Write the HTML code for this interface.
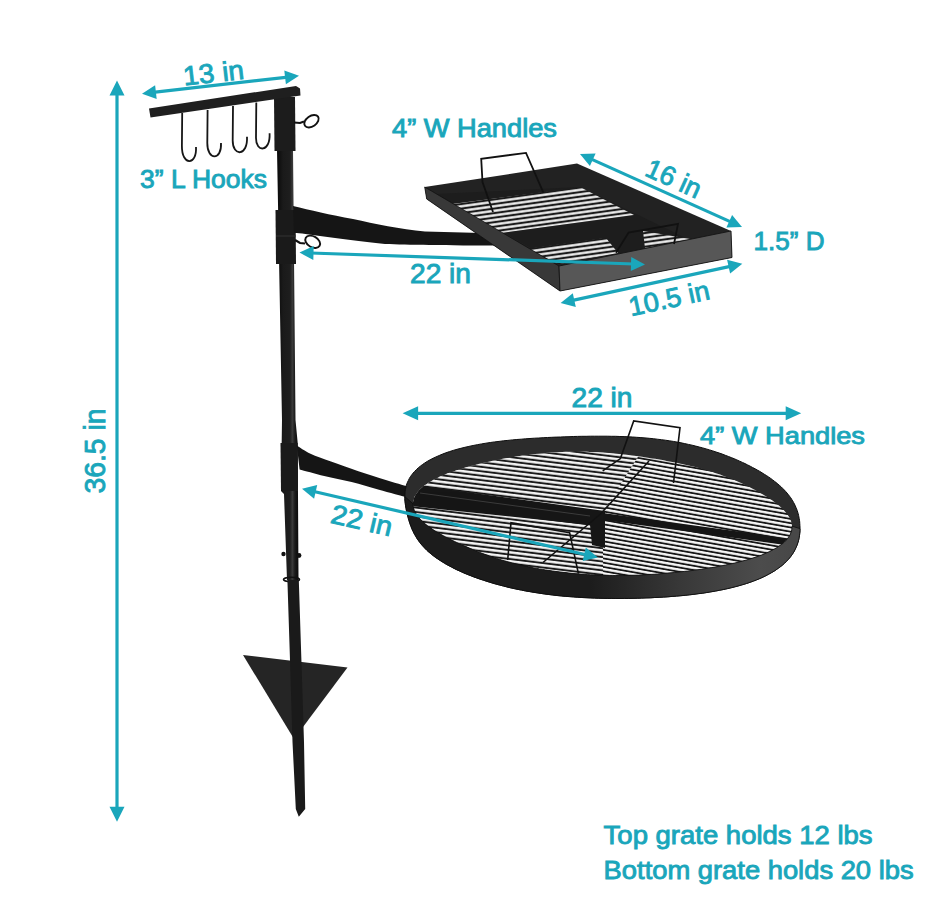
<!DOCTYPE html>
<html><head><meta charset="utf-8"><title>Grill</title>
<style>html,body{margin:0;padding:0;background:#fff;width:950px;height:903px;overflow:hidden}
svg{display:block} text{font-family:"Liberation Sans", sans-serif}</style></head>
<body><svg width="950" height="903" viewBox="0 0 950 903"><defs>
<pattern id="stripesR" patternUnits="userSpaceOnUse" width="40" height="4.2" patternTransform="rotate(10)">
<rect width="40" height="4.2" fill="#111111"/><rect y="0.8" width="40" height="2.4" fill="#f6f6f6"/></pattern>
<pattern id="stripesL" patternUnits="userSpaceOnUse" width="40" height="4.4" patternTransform="rotate(7)">
<rect width="40" height="4.4" fill="#111111"/><rect y="0.8" width="40" height="2.5" fill="#f4f4f4"/></pattern>
<pattern id="stripesT" patternUnits="userSpaceOnUse" width="40" height="4.5" patternTransform="rotate(-7.9)">
<rect width="40" height="4.5" fill="#1a1a1a"/><rect y="1.1" width="40" height="2.3" fill="#f2f2f2"/></pattern>
<linearGradient id="poleG" x1="278" x2="298" y1="0" y2="0" gradientUnits="userSpaceOnUse">
<stop offset="0" stop-color="#0c0c0c"/><stop offset="0.25" stop-color="#1a1a1a"/><stop offset="0.6" stop-color="#1e1e1e"/><stop offset="0.72" stop-color="#3a3a3a"/><stop offset="0.85" stop-color="#1a1a1a"/><stop offset="1" stop-color="#0c0c0c"/></linearGradient>
<linearGradient id="wallG" x1="590" x2="790" y1="0" y2="0" gradientUnits="userSpaceOnUse">
<stop offset="0" stop-color="#1c1c1c"/><stop offset="0.45" stop-color="#383838"/><stop offset="0.85" stop-color="#4c4c4c"/><stop offset="1" stop-color="#484848"/></linearGradient>
</defs><rect width="950" height="903" fill="#ffffff"/><path d="M277,150 L293,150 L295.5,420 L297.7,443 L298.5,580 L287,580 L284,494 L281,491 L282,420 Z" fill="url(#poleG)"/><path d="M274,97 L295,97 L295.5,151 L274.5,151 Z" fill="#1c1c1c"/><path d="M275.5,210 L295.5,210 L296,264 L276,264 Z" fill="#1a1a1a"/><line x1="276" y1="236" x2="296" y2="236" stroke="#333" stroke-width="1"/><path d="M280.5,443 L297.7,443 L298,491 L281,491 Z" fill="#1a1a1a"/><circle cx="283.5" cy="554" r="2.2" fill="#111"/><circle cx="299" cy="555.5" r="2.4" fill="#111"/><ellipse cx="291.5" cy="579.5" rx="8" ry="2.2" fill="none" stroke="#111" stroke-width="1.6"/><path d="M149,108.5 L296,86 L300,88.5 L300.5,95.5 L150.5,117.5 Z" fill="#1f1f1f"/><path d="M182.2,113 L181.89999999999998,146 C181.7,166 197,166 196,147" fill="none" stroke="#161616" stroke-width="1.8"/><path d="M207.6,110 L207.29999999999998,143 C207.1,160.8 222,160.8 221,143" fill="none" stroke="#161616" stroke-width="1.8"/><path d="M233,106 L232.7,140.6 C232.5,156.7 248,156.7 247,136.7" fill="none" stroke="#161616" stroke-width="1.8"/><path d="M256.3,102.5 L256.0,138 C255.8,152.7 270.6,152.7 269.6,133.2" fill="none" stroke="#161616" stroke-width="1.8"/><ellipse cx="311.5" cy="121.2" rx="8" ry="5.2" transform="rotate(-35 311.5 121.2)" fill="none" stroke="#111" stroke-width="1.9"/><path d="M294,122.5 L300,123 L304,121.5" fill="none" stroke="#111" stroke-width="2.2"/><ellipse cx="312.7" cy="241.8" rx="8" ry="5.4" transform="rotate(30 312.7 241.8)" fill="none" stroke="#111" stroke-width="1.9"/><path d="M295,240 L300,243 L305,243.5" fill="none" stroke="#111" stroke-width="2.2"/><path d="M293,206 C310,210 330,215 353,219 C375,224 400,229 425,231.5 L520,234 L520,245.5 C440,245.5 410,245 385,244 C360,241 340,239 320,236 C310,234.5 300,233 294,233 Z" fill="#151515"/><path d="M296.8,445.5 C299.1,446.9 304.8,451.1 310.5,453.8 C316.2,456.5 323.0,458.6 331.0,461.5 C339.0,464.4 349.3,468.1 358.4,471.2 C367.5,474.3 377.5,477.4 385.8,480.0 C394.1,482.6 404.3,485.4 408.0,486.5  L408,497.5 L408.0,497.5 C403.2,496.2 388.4,492.3 379.0,489.7 C369.6,487.1 360.7,484.3 351.6,482.0 C342.5,479.7 332.9,478.1 324.2,476.0 C315.5,473.9 303.7,470.6 299.6,469.5  Z" fill="#151515"/><path d="M424.7,187 L577,163.6 L731,231 L732,257.5 L560,291 L426.7,199 Z" fill="#222222"/><path d="M436,194 L580,187 L690,240 L559,264 Z" fill="#1d1d1d"/><path d="M452,204 L581,187.5 L634,215 L501,233 Z" fill="url(#stripesT)"/><path d="M527,249 L606,238 L618,253 L559,264 Z" fill="url(#stripesT)"/><path d="M643,231 L690,239 L689,241 L645,248 Z" fill="url(#stripesT)"/><path d="M424.7,187 L559,266 L560,291 L426.7,199 Z" fill="#383838" stroke="#111" stroke-width="0.8"/><path d="M559,266 L731,231 L732,257.5 L560,291 Z" fill="#575757" stroke="#151515" stroke-width="0.9"/><path d="M493,212 L482.5,182 L481.2,158.8 L526,152.9 L543.5,192.8" fill="none" stroke="#111" stroke-width="1.8"/><path d="M616,252.8 L628.6,232.6 L678,223.8 L674,244" fill="none" stroke="#111" stroke-width="1.8"/><path d="M408.0,517.0 L407.5,515.4 L407.1,513.7 L406.8,512.1 L406.4,510.4 L406.1,508.7 L405.8,507.0 L405.5,505.3 L405.3,503.6 L405.1,501.9 L404.9,500.2 L404.9,498.4 L404.8,496.6 L404.9,494.9 L405.0,493.1 L405.1,491.3 L405.4,489.5 L405.8,487.7 L406.2,485.8 L406.8,484.0 L407.5,482.2 L408.4,480.4 L409.3,478.5 L410.4,476.7 L411.7,474.9 L413.1,473.1 L414.6,471.4 L416.4,469.6 L418.2,467.9 L420.3,466.2 L422.5,464.5 L424.9,462.9 L427.4,461.3 L430.1,459.8 L433.0,458.3 L436.0,456.9 L439.2,455.5 L442.5,454.1 L445.9,452.8 L449.5,451.6 L453.2,450.4 L457.0,449.3 L460.9,448.3 L464.9,447.3 L468.9,446.4 L473.1,445.5 L477.3,444.7 L481.6,443.9 L485.9,443.2 L490.3,442.5 L494.6,441.9 L499.0,441.4 L503.5,440.8 L507.9,440.4 L512.3,439.9 L516.8,439.5 L521.2,439.2 L525.6,438.8 L530.0,438.5 L534.4,438.2 L538.8,438.0 L543.2,437.7 L547.5,437.5 L551.8,437.3 L556.2,437.1 L560.5,437.0 L564.8,436.8 L569.0,436.7 L573.3,436.5 L577.6,436.4 L581.8,436.3 L586.1,436.3 L590.3,436.2 L594.5,436.2 L598.8,436.2 L603.0,436.2 L607.2,436.2 L611.5,436.3 L615.7,436.3 L619.9,436.5 L624.1,436.6 L628.3,436.8 L632.5,437.0 L636.7,437.3 L640.9,437.6 L645.0,437.9 L649.2,438.3 L653.3,438.7 L657.3,439.2 L661.4,439.7 L665.4,440.2 L669.3,440.8 L673.3,441.4 L677.1,442.1 L681.0,442.8 L684.7,443.6 L688.4,444.4 L692.1,445.2 L695.7,446.1 L699.2,447.0 L702.7,447.9 L706.1,448.9 L709.5,449.9 L712.8,450.9 L716.0,452.0 L719.2,453.0 L722.3,454.1 L725.3,455.3 L728.3,456.4 L731.3,457.6 L734.1,458.7 L736.9,459.9 L739.7,461.2 L742.4,462.4 L745.0,463.6 L747.6,464.9 L750.2,466.2 L752.6,467.5 L755.1,468.8 L757.4,470.1 L759.8,471.4 L762.0,472.8 L764.2,474.2 L766.4,475.5 L768.5,476.9 L770.5,478.3 L772.4,479.7 L774.3,481.2 L776.2,482.6 L777.9,484.1 L779.6,485.5 L781.3,487.0 L782.8,488.5 L784.3,490.0 L785.7,491.5 L787.1,493.1 L788.3,494.6 L789.5,496.2 L790.7,497.7 L791.7,499.3 L792.7,500.9 L793.6,502.5 L794.4,504.0 L795.2,505.6 L795.9,507.3 L796.6,508.9 L797.2,510.5 L797.7,512.1 L798.2,513.7 L798.6,515.4 L798.9,517.0 L799.2,518.6 L799.5,520.3 L799.7,521.9 L799.8,523.6 L799.9,525.3 L800.0,527.0 L800.0,528.6 L800.0,530.3 L799.9,532.0 L799.7,533.7 L799.5,535.4 L799.2,537.2 L798.9,538.9 L798.5,540.6 L798.0,542.3 L797.4,544.1 L796.8,545.8 L796.0,547.6 L795.2,549.3 L794.3,551.1 L793.3,552.8 L792.1,554.6 L790.9,556.3 L789.5,558.0 L788.0,559.7 L786.4,561.4 L784.7,563.1 L782.8,564.8 L780.8,566.4 L778.6,568.0 L776.4,569.6 L774.0,571.2 L771.4,572.7 L768.7,574.2 L765.9,575.7 L763.0,577.1 L759.9,578.5 L756.7,579.8 L753.4,581.1 L750.0,582.3 L746.5,583.5 L742.8,584.6 L739.1,585.7 L735.3,586.7 L731.4,587.7 L727.5,588.6 L723.4,589.5 L719.3,590.3 L715.2,591.1 L711.0,591.8 L706.8,592.5 L702.5,593.2 L698.2,593.7 L693.9,594.3 L689.6,594.8 L685.2,595.3 L680.9,595.7 L676.5,596.1 L672.2,596.4 L667.8,596.8 L663.4,597.1 L659.1,597.3 L654.7,597.5 L650.4,597.8 L646.0,597.9 L641.7,598.1 L637.3,598.2 L633.0,598.3 L628.7,598.4 L624.4,598.4 L620.1,598.5 L615.8,598.5 L611.5,598.4 L607.3,598.4 L603.0,598.3 L598.7,598.2 L594.5,598.1 L590.3,597.9 L586.1,597.7 L581.9,597.5 L577.7,597.2 L573.5,596.9 L569.3,596.6 L565.2,596.3 L561.1,595.9 L557.0,595.5 L552.9,595.0 L548.9,594.5 L544.9,594.0 L540.9,593.4 L537.0,592.8 L533.1,592.2 L529.2,591.5 L525.4,590.9 L521.6,590.1 L517.9,589.4 L514.2,588.6 L510.5,587.8 L506.9,586.9 L503.4,586.0 L499.9,585.1 L496.4,584.2 L493.0,583.2 L489.7,582.2 L486.4,581.2 L483.2,580.1 L480.0,579.1 L476.9,578.0 L473.8,576.9 L470.8,575.7 L467.9,574.6 L465.0,573.4 L462.2,572.2 L459.4,570.9 L456.7,569.7 L454.1,568.4 L451.6,567.1 L449.1,565.8 L446.7,564.5 L444.3,563.1 L442.1,561.7 L439.9,560.3 L437.8,558.9 L435.7,557.5 L433.8,556.1 L431.9,554.6 L430.1,553.1 L428.4,551.7 L426.8,550.2 L425.3,548.7 L423.8,547.1 L422.4,545.6 L421.1,544.1 L419.9,542.5 L418.7,540.9 L417.6,539.4 L416.6,537.8 L415.7,536.2 L414.8,534.7 L413.9,533.1 L413.2,531.5 L412.4,529.9 L411.7,528.3 L411.1,526.7 L410.5,525.1 L409.9,523.5 L409.4,521.9 L408.9,520.3 L408.4,518.6 Z" fill="#2c2c2c" stroke="#0d0d0d" stroke-width="1"/><clipPath id="gclip"><path d="M416.9,515.0 L415.9,513.4 L415.0,511.8 L414.3,510.3 L413.8,508.6 L413.3,507.0 L413.1,505.4 L413.0,503.8 L413.1,502.2 L413.3,500.5 L413.8,498.9 L414.4,497.3 L415.1,495.7 L416.1,494.1 L417.2,492.6 L418.4,491.0 L419.9,489.5 L421.4,488.0 L423.2,486.5 L425.0,485.1 L427.1,483.7 L429.2,482.3 L431.5,480.9 L433.9,479.6 L436.4,478.4 L439.0,477.1 L441.6,475.9 L444.4,474.7 L447.3,473.6 L450.2,472.5 L453.2,471.5 L456.2,470.4 L459.3,469.4 L462.4,468.5 L465.5,467.5 L468.7,466.6 L471.9,465.8 L475.2,464.9 L478.4,464.1 L481.7,463.3 L485.0,462.6 L488.3,461.8 L491.6,461.1 L494.9,460.4 L498.2,459.8 L501.5,459.1 L504.9,458.5 L508.2,457.9 L511.5,457.4 L514.9,456.8 L518.3,456.3 L521.6,455.8 L525.0,455.3 L528.4,454.9 L531.8,454.4 L535.2,454.1 L538.6,453.7 L542.0,453.4 L545.4,453.0 L548.8,452.8 L552.2,452.5 L555.7,452.3 L559.1,452.1 L562.5,452.0 L566.0,451.8 L569.4,451.8 L572.8,451.7 L576.2,451.7 L579.6,451.7 L583.0,451.7 L586.4,451.8 L589.8,451.9 L593.1,452.0 L596.4,452.2 L599.7,452.4 L603.0,452.6 L606.3,452.8 L609.5,453.1 L612.7,453.3 L615.9,453.6 L619.0,453.9 L622.2,454.3 L625.3,454.6 L628.4,455.0 L631.4,455.4 L634.5,455.8 L637.5,456.2 L640.5,456.6 L643.5,457.0 L646.4,457.5 L649.4,457.9 L652.3,458.4 L655.2,458.8 L658.1,459.3 L661.0,459.8 L663.8,460.3 L666.7,460.9 L669.5,461.4 L672.4,461.9 L675.2,462.5 L678.0,463.1 L680.7,463.7 L683.5,464.3 L686.2,464.9 L689.0,465.5 L691.7,466.2 L694.4,466.8 L697.1,467.5 L699.7,468.2 L702.3,469.0 L704.9,469.7 L707.5,470.5 L710.1,471.3 L712.6,472.1 L715.1,472.9 L717.6,473.7 L720.1,474.6 L722.5,475.5 L724.9,476.4 L727.3,477.3 L729.6,478.2 L732.0,479.1 L734.3,480.1 L736.6,481.1 L738.8,482.1 L741.1,483.1 L743.3,484.1 L745.5,485.2 L747.7,486.3 L749.9,487.3 L752.1,488.5 L754.2,489.6 L756.3,490.7 L758.4,491.9 L760.5,493.1 L762.6,494.3 L764.6,495.5 L766.7,496.7 L768.6,498.0 L770.6,499.3 L772.5,500.6 L774.3,501.9 L776.1,503.3 L777.9,504.7 L779.5,506.1 L781.1,507.5 L782.7,509.0 L784.1,510.4 L785.4,511.9 L786.7,513.5 L787.8,515.0 L788.8,516.6 L789.7,518.1 L790.5,519.7 L791.1,521.3 L791.5,522.9 L791.9,524.5 L792.0,526.2 L792.0,527.8 L791.8,529.4 L791.5,531.0 L791.0,532.6 L790.3,534.2 L789.5,535.8 L788.4,537.4 L787.3,538.9 L785.9,540.5 L784.4,542.0 L782.7,543.5 L780.8,544.9 L778.8,546.3 L776.7,547.7 L774.4,549.0 L772.0,550.3 L769.5,551.6 L766.8,552.8 L764.1,554.0 L761.2,555.2 L758.2,556.3 L755.2,557.3 L752.1,558.3 L748.9,559.3 L745.7,560.2 L742.4,561.1 L739.1,562.0 L735.7,562.8 L732.3,563.6 L728.9,564.3 L725.5,565.0 L722.1,565.7 L718.6,566.4 L715.2,567.0 L711.7,567.6 L708.3,568.1 L704.8,568.7 L701.4,569.2 L698.0,569.7 L694.6,570.1 L691.1,570.6 L687.8,571.0 L684.4,571.4 L681.0,571.8 L677.7,572.1 L674.3,572.5 L671.0,572.8 L667.7,573.1 L664.4,573.4 L661.1,573.7 L657.8,573.9 L654.5,574.2 L651.2,574.4 L648.0,574.6 L644.7,574.8 L641.5,574.9 L638.2,575.1 L635.0,575.2 L631.7,575.3 L628.5,575.4 L625.3,575.4 L622.1,575.4 L618.9,575.5 L615.7,575.5 L612.5,575.4 L609.3,575.4 L606.2,575.3 L603.0,575.2 L599.9,575.1 L596.7,575.0 L593.6,574.9 L590.5,574.7 L587.4,574.5 L584.3,574.3 L581.2,574.1 L578.1,573.8 L575.1,573.6 L572.0,573.3 L569.0,573.0 L566.0,572.6 L563.0,572.3 L560.0,571.9 L557.1,571.6 L554.1,571.2 L551.2,570.8 L548.2,570.3 L545.3,569.9 L542.5,569.4 L539.6,568.9 L536.8,568.4 L533.9,567.9 L531.1,567.3 L528.3,566.7 L525.6,566.1 L522.8,565.5 L520.1,564.9 L517.4,564.2 L514.8,563.6 L512.1,562.9 L509.5,562.2 L506.9,561.5 L504.4,560.7 L501.8,560.0 L499.3,559.2 L496.8,558.4 L494.3,557.6 L491.9,556.7 L489.4,555.9 L487.0,555.0 L484.6,554.2 L482.3,553.3 L479.9,552.4 L477.5,551.5 L475.2,550.5 L472.9,549.6 L470.6,548.6 L468.3,547.6 L466.0,546.6 L463.7,545.6 L461.4,544.6 L459.1,543.6 L456.8,542.5 L454.5,541.4 L452.3,540.3 L450.0,539.2 L447.8,538.1 L445.6,536.9 L443.4,535.7 L441.2,534.5 L439.1,533.3 L437.0,532.1 L434.9,530.8 L432.9,529.5 L430.9,528.1 L429.0,526.8 L427.2,525.4 L425.4,524.0 L423.7,522.5 L422.2,521.1 L420.7,519.6 L419.3,518.1 L418.0,516.5 Z"/></clipPath><path d="M416.9,515.0 L415.9,513.4 L415.0,511.8 L414.3,510.3 L413.8,508.6 L413.3,507.0 L413.1,505.4 L413.0,503.8 L413.1,502.2 L413.3,500.5 L413.8,498.9 L414.4,497.3 L415.1,495.7 L416.1,494.1 L417.2,492.6 L418.4,491.0 L419.9,489.5 L421.4,488.0 L423.2,486.5 L425.0,485.1 L427.1,483.7 L429.2,482.3 L431.5,480.9 L433.9,479.6 L436.4,478.4 L439.0,477.1 L441.6,475.9 L444.4,474.7 L447.3,473.6 L450.2,472.5 L453.2,471.5 L456.2,470.4 L459.3,469.4 L462.4,468.5 L465.5,467.5 L468.7,466.6 L471.9,465.8 L475.2,464.9 L478.4,464.1 L481.7,463.3 L485.0,462.6 L488.3,461.8 L491.6,461.1 L494.9,460.4 L498.2,459.8 L501.5,459.1 L504.9,458.5 L508.2,457.9 L511.5,457.4 L514.9,456.8 L518.3,456.3 L521.6,455.8 L525.0,455.3 L528.4,454.9 L531.8,454.4 L535.2,454.1 L538.6,453.7 L542.0,453.4 L545.4,453.0 L548.8,452.8 L552.2,452.5 L555.7,452.3 L559.1,452.1 L562.5,452.0 L566.0,451.8 L569.4,451.8 L572.8,451.7 L576.2,451.7 L579.6,451.7 L583.0,451.7 L586.4,451.8 L589.8,451.9 L593.1,452.0 L596.4,452.2 L599.7,452.4 L603.0,452.6 L606.3,452.8 L609.5,453.1 L612.7,453.3 L615.9,453.6 L619.0,453.9 L622.2,454.3 L625.3,454.6 L628.4,455.0 L631.4,455.4 L634.5,455.8 L637.5,456.2 L640.5,456.6 L643.5,457.0 L646.4,457.5 L649.4,457.9 L652.3,458.4 L655.2,458.8 L658.1,459.3 L661.0,459.8 L663.8,460.3 L666.7,460.9 L669.5,461.4 L672.4,461.9 L675.2,462.5 L678.0,463.1 L680.7,463.7 L683.5,464.3 L686.2,464.9 L689.0,465.5 L691.7,466.2 L694.4,466.8 L697.1,467.5 L699.7,468.2 L702.3,469.0 L704.9,469.7 L707.5,470.5 L710.1,471.3 L712.6,472.1 L715.1,472.9 L717.6,473.7 L720.1,474.6 L722.5,475.5 L724.9,476.4 L727.3,477.3 L729.6,478.2 L732.0,479.1 L734.3,480.1 L736.6,481.1 L738.8,482.1 L741.1,483.1 L743.3,484.1 L745.5,485.2 L747.7,486.3 L749.9,487.3 L752.1,488.5 L754.2,489.6 L756.3,490.7 L758.4,491.9 L760.5,493.1 L762.6,494.3 L764.6,495.5 L766.7,496.7 L768.6,498.0 L770.6,499.3 L772.5,500.6 L774.3,501.9 L776.1,503.3 L777.9,504.7 L779.5,506.1 L781.1,507.5 L782.7,509.0 L784.1,510.4 L785.4,511.9 L786.7,513.5 L787.8,515.0 L788.8,516.6 L789.7,518.1 L790.5,519.7 L791.1,521.3 L791.5,522.9 L791.9,524.5 L792.0,526.2 L792.0,527.8 L791.8,529.4 L791.5,531.0 L791.0,532.6 L790.3,534.2 L789.5,535.8 L788.4,537.4 L787.3,538.9 L785.9,540.5 L784.4,542.0 L782.7,543.5 L780.8,544.9 L778.8,546.3 L776.7,547.7 L774.4,549.0 L772.0,550.3 L769.5,551.6 L766.8,552.8 L764.1,554.0 L761.2,555.2 L758.2,556.3 L755.2,557.3 L752.1,558.3 L748.9,559.3 L745.7,560.2 L742.4,561.1 L739.1,562.0 L735.7,562.8 L732.3,563.6 L728.9,564.3 L725.5,565.0 L722.1,565.7 L718.6,566.4 L715.2,567.0 L711.7,567.6 L708.3,568.1 L704.8,568.7 L701.4,569.2 L698.0,569.7 L694.6,570.1 L691.1,570.6 L687.8,571.0 L684.4,571.4 L681.0,571.8 L677.7,572.1 L674.3,572.5 L671.0,572.8 L667.7,573.1 L664.4,573.4 L661.1,573.7 L657.8,573.9 L654.5,574.2 L651.2,574.4 L648.0,574.6 L644.7,574.8 L641.5,574.9 L638.2,575.1 L635.0,575.2 L631.7,575.3 L628.5,575.4 L625.3,575.4 L622.1,575.4 L618.9,575.5 L615.7,575.5 L612.5,575.4 L609.3,575.4 L606.2,575.3 L603.0,575.2 L599.9,575.1 L596.7,575.0 L593.6,574.9 L590.5,574.7 L587.4,574.5 L584.3,574.3 L581.2,574.1 L578.1,573.8 L575.1,573.6 L572.0,573.3 L569.0,573.0 L566.0,572.6 L563.0,572.3 L560.0,571.9 L557.1,571.6 L554.1,571.2 L551.2,570.8 L548.2,570.3 L545.3,569.9 L542.5,569.4 L539.6,568.9 L536.8,568.4 L533.9,567.9 L531.1,567.3 L528.3,566.7 L525.6,566.1 L522.8,565.5 L520.1,564.9 L517.4,564.2 L514.8,563.6 L512.1,562.9 L509.5,562.2 L506.9,561.5 L504.4,560.7 L501.8,560.0 L499.3,559.2 L496.8,558.4 L494.3,557.6 L491.9,556.7 L489.4,555.9 L487.0,555.0 L484.6,554.2 L482.3,553.3 L479.9,552.4 L477.5,551.5 L475.2,550.5 L472.9,549.6 L470.6,548.6 L468.3,547.6 L466.0,546.6 L463.7,545.6 L461.4,544.6 L459.1,543.6 L456.8,542.5 L454.5,541.4 L452.3,540.3 L450.0,539.2 L447.8,538.1 L445.6,536.9 L443.4,535.7 L441.2,534.5 L439.1,533.3 L437.0,532.1 L434.9,530.8 L432.9,529.5 L430.9,528.1 L429.0,526.8 L427.2,525.4 L425.4,524.0 L423.7,522.5 L422.2,521.1 L420.7,519.6 L419.3,518.1 L418.0,516.5 Z" fill="url(#stripesR)"/><g clip-path="url(#gclip)"><path d="M395,430 L655,430 L603,512 L603,610 L395,610 Z" fill="url(#stripesL)"/><path d="M400,483 L605,511 L605,548 L592,545 L590,525 L400,505 Z" fill="#161616"/><path d="M420,493 L590,516" stroke="#555" stroke-width="1" opacity="0.6"/><path d="M603,513 L800,540 L800,547 L603,520 Z" fill="#151515"/></g><path d="M800.0,528.6 L800.0,530.3 L799.9,532.0 L799.7,533.7 L799.5,535.4 L799.2,537.2 L798.9,538.9 L798.5,540.6 L798.0,542.3 L797.4,544.1 L796.8,545.8 L796.0,547.6 L795.2,549.3 L794.3,551.1 L793.3,552.8 L792.1,554.6 L790.9,556.3 L789.5,558.0 L788.0,559.7 L786.4,561.4 L784.7,563.1 L782.8,564.8 L780.8,566.4 L778.6,568.0 L776.4,569.6 L774.0,571.2 L771.4,572.7 L768.7,574.2 L765.9,575.7 L763.0,577.1 L759.9,578.5 L756.7,579.8 L753.4,581.1 L750.0,582.3 L746.5,583.5 L742.8,584.6 L739.1,585.7 L735.3,586.7 L731.4,587.7 L727.5,588.6 L723.4,589.5 L719.3,590.3 L715.2,591.1 L711.0,591.8 L706.8,592.5 L702.5,593.2 L698.2,593.7 L693.9,594.3 L689.6,594.8 L685.2,595.3 L680.9,595.7 L676.5,596.1 L672.2,596.4 L667.8,596.8 L663.4,597.1 L659.1,597.3 L654.7,597.5 L650.4,597.8 L646.0,597.9 L641.7,598.1 L637.3,598.2 L633.0,598.3 L628.7,598.4 L624.4,598.4 L620.1,598.5 L615.8,598.5 L611.5,598.4 L607.3,598.4 L603.0,598.3 L598.7,598.2 L594.5,598.1 L590.3,597.9 L586.1,597.7 L581.9,597.5 L577.7,597.2 L573.5,596.9 L569.3,596.6 L565.2,596.3 L561.1,595.9 L557.0,595.5 L552.9,595.0 L548.9,594.5 L544.9,594.0 L540.9,593.4 L537.0,592.8 L533.1,592.2 L529.2,591.5 L525.4,590.9 L521.6,590.1 L517.9,589.4 L514.2,588.6 L510.5,587.8 L506.9,586.9 L503.4,586.0 L499.9,585.1 L496.4,584.2 L493.0,583.2 L489.7,582.2 L486.4,581.2 L483.2,580.1 L480.0,579.1 L476.9,578.0 L473.8,576.9 L470.8,575.7 L467.9,574.6 L465.0,573.4 L462.2,572.2 L459.4,570.9 L456.7,569.7 L454.1,568.4 L451.6,567.1 L449.1,565.8 L446.7,564.5 L444.3,563.1 L442.1,561.7 L439.9,560.3 L437.8,558.9 L435.7,557.5 L433.8,556.1 L431.9,554.6 L430.1,553.1 L428.4,551.7 L426.8,550.2 L425.3,548.7 L423.8,547.1 L422.4,545.6 L421.1,544.1 L419.9,542.5 L418.7,540.9 L417.6,539.4 L416.6,537.8 L415.7,536.2 L414.8,534.7 L413.9,533.1 L413.2,531.5 L412.4,529.9 L411.7,528.3 L411.1,526.7 L410.5,525.1 L409.9,523.5 L409.4,521.9 L408.9,520.3 L408.4,518.6 L408.0,517.0 L407.5,515.4 L407.1,513.7 L406.8,512.1 L406.4,510.4 L406.1,508.7 L405.8,507.0 L405.5,505.3 L405.3,503.6 L405.1,501.9 L404.9,500.2 L404.9,498.4 L404.8,496.6 L413.0,503.8 L413.1,505.4 L413.3,507.0 L413.8,508.6 L414.3,510.3 L415.0,511.8 L415.9,513.4 L416.9,515.0 L418.0,516.5 L419.3,518.1 L420.7,519.6 L422.2,521.1 L423.7,522.5 L425.4,524.0 L427.2,525.4 L429.0,526.8 L430.9,528.1 L432.9,529.5 L434.9,530.8 L437.0,532.1 L439.1,533.3 L441.2,534.5 L443.4,535.7 L445.6,536.9 L447.8,538.1 L450.0,539.2 L452.3,540.3 L454.5,541.4 L456.8,542.5 L459.1,543.6 L461.4,544.6 L463.7,545.6 L466.0,546.6 L468.3,547.6 L470.6,548.6 L472.9,549.6 L475.2,550.5 L477.5,551.5 L479.9,552.4 L482.3,553.3 L484.6,554.2 L487.0,555.0 L489.4,555.9 L491.9,556.7 L494.3,557.6 L496.8,558.4 L499.3,559.2 L501.8,560.0 L504.4,560.7 L506.9,561.5 L509.5,562.2 L512.1,562.9 L514.8,563.6 L517.4,564.2 L520.1,564.9 L522.8,565.5 L525.6,566.1 L528.3,566.7 L531.1,567.3 L533.9,567.9 L536.8,568.4 L539.6,568.9 L542.5,569.4 L545.3,569.9 L548.2,570.3 L551.2,570.8 L554.1,571.2 L557.1,571.6 L560.0,571.9 L563.0,572.3 L566.0,572.6 L569.0,573.0 L572.0,573.3 L575.1,573.6 L578.1,573.8 L581.2,574.1 L584.3,574.3 L587.4,574.5 L590.5,574.7 L593.6,574.9 L596.7,575.0 L599.9,575.1 L603.0,575.2 L606.2,575.3 L609.3,575.4 L612.5,575.4 L615.7,575.5 L618.9,575.5 L622.1,575.4 L625.3,575.4 L628.5,575.4 L631.7,575.3 L635.0,575.2 L638.2,575.1 L641.5,574.9 L644.7,574.8 L648.0,574.6 L651.2,574.4 L654.5,574.2 L657.8,573.9 L661.1,573.7 L664.4,573.4 L667.7,573.1 L671.0,572.8 L674.3,572.5 L677.7,572.1 L681.0,571.8 L684.4,571.4 L687.8,571.0 L691.1,570.6 L694.6,570.1 L698.0,569.7 L701.4,569.2 L704.8,568.7 L708.3,568.1 L711.7,567.6 L715.2,567.0 L718.6,566.4 L722.1,565.7 L725.5,565.0 L728.9,564.3 L732.3,563.6 L735.7,562.8 L739.1,562.0 L742.4,561.1 L745.7,560.2 L748.9,559.3 L752.1,558.3 L755.2,557.3 L758.2,556.3 L761.2,555.2 L764.1,554.0 L766.8,552.8 L769.5,551.6 L772.0,550.3 L774.4,549.0 L776.7,547.7 L778.8,546.3 L780.8,544.9 L782.7,543.5 L784.4,542.0 L785.9,540.5 L787.3,538.9 L788.4,537.4 L789.5,535.8 L790.3,534.2 L791.0,532.6 L791.5,531.0 L791.8,529.4 L792.0,527.8 L792.0,526.2 Z" fill="url(#wallG)" stroke="#0d0d0d" stroke-width="0.8"/><path d="M602.7,470.8 L620.4,458.6 L633.7,421 L680,427.7 L673.5,483" fill="none" stroke="#111" stroke-width="1.6"/><path d="M507.7,560 L511,522.7 L569.6,532.7 L578.4,573.6" fill="none" stroke="#111" stroke-width="1.6"/><path d="M543,562.5 L600.5,514 L649,461" fill="none" stroke="#111" stroke-width="1.6"/><path d="M243,655 L347.5,667.5 L294,739 Z" fill="#252525"/><path d="M292,660 L296,736" stroke="#3a3a3a" stroke-width="1"/><path d="M287.4,580 L298.8,580 L301.4,660 L304,742 L305.2,809 L298.8,816.7 L295.8,809 L292.5,742 L290,660 Z" fill="#1a1a1a"/><line x1="117.0" y1="92.5" x2="117.0" y2="809.7" stroke="#1aa6bb" stroke-width="3.2"/><polygon points="117.0,821.7 109.5,806.7 124.5,806.7" fill="#1aa6bb"/><polygon points="117.0,80.5 109.5,95.5 124.5,95.5" fill="#1aa6bb"/><line x1="153.1" y1="92.4" x2="287.9" y2="77.1" stroke="#1aa6bb" stroke-width="3.2"/><polygon points="299.0,75.8 285.9,84.3 284.3,70.4" fill="#1aa6bb"/><polygon points="142.0,93.7 156.7,99.1 155.1,85.2" fill="#1aa6bb"/><line x1="310.7" y1="253.0" x2="633.8" y2="264.0" stroke="#1aa6bb" stroke-width="3.2"/><polygon points="645.0,264.4 630.8,270.9 631.2,256.9" fill="#1aa6bb"/><polygon points="299.5,252.6 313.3,260.1 313.7,246.1" fill="#1aa6bb"/><line x1="590.2" y1="158.6" x2="731.8" y2="222.4" stroke="#1aa6bb" stroke-width="3.2"/><polygon points="742.0,227.0 726.4,227.6 732.1,214.9" fill="#1aa6bb"/><polygon points="580.0,154.0 589.9,166.1 595.6,153.4" fill="#1aa6bb"/><line x1="571.5" y1="300.6" x2="731.4" y2="266.1" stroke="#1aa6bb" stroke-width="3.2"/><polygon points="742.3,263.7 730.1,273.5 727.1,259.8" fill="#1aa6bb"/><polygon points="560.6,303.0 575.8,306.9 572.8,293.2" fill="#1aa6bb"/><line x1="415.0" y1="413.3" x2="788.8" y2="413.3" stroke="#1aa6bb" stroke-width="3.2"/><polygon points="801.2,413.3 785.7,420.3 785.7,406.3" fill="#1aa6bb"/><polygon points="402.6,413.3 418.1,420.3 418.1,406.3" fill="#1aa6bb"/><line x1="312.9" y1="491.2" x2="587.0" y2="555.0" stroke="#1aa6bb" stroke-width="3.2"/><polygon points="597.9,557.5 582.7,561.1 585.8,547.5" fill="#1aa6bb"/><polygon points="302.0,488.7 314.1,498.7 317.2,485.1" fill="#1aa6bb"/><g fill="#1aa6bb" stroke="#1aa6bb" stroke-width="0.9" font-family="Liberation Sans, sans-serif" font-weight="normal"><text x="0" y="10.4" text-anchor="middle" font-size="29" textLength="85" lengthAdjust="spacingAndGlyphs" transform="translate(95.0,451.0) rotate(-90.00)">36.5 in</text><text x="0" y="9.7" text-anchor="middle" font-size="27" textLength="61" lengthAdjust="spacingAndGlyphs" transform="translate(213.5,72.5) rotate(-6.50)">13 in</text><text x="0" y="9.1" text-anchor="middle" font-size="25.5" textLength="127" lengthAdjust="spacingAndGlyphs" transform="translate(203.5,179.0) rotate(0.00)">3” L Hooks</text><text x="0" y="8.9" text-anchor="middle" font-size="25" textLength="165" lengthAdjust="spacingAndGlyphs" transform="translate(474.5,128.2) rotate(0.00)">4” W Handles</text><text x="0" y="9.7" text-anchor="middle" font-size="27" textLength="58" lengthAdjust="spacingAndGlyphs" transform="translate(674.0,178.0) rotate(24.30)">16 in</text><text x="0" y="9.1" text-anchor="middle" font-size="25.5" textLength="71" lengthAdjust="spacingAndGlyphs" transform="translate(789.0,241.0) rotate(0.00)">1.5” D</text><text x="0" y="9.7" text-anchor="middle" font-size="27" textLength="61" lengthAdjust="spacingAndGlyphs" transform="translate(440.5,273.5) rotate(0.00)">22 in</text><text x="0" y="9.7" text-anchor="middle" font-size="27" textLength="82" lengthAdjust="spacingAndGlyphs" transform="translate(669.0,298.0) rotate(-12.20)">10.5 in</text><text x="0" y="9.7" text-anchor="middle" font-size="27" textLength="61" lengthAdjust="spacingAndGlyphs" transform="translate(602.0,397.5) rotate(0.00)">22 in</text><text x="0" y="8.8" text-anchor="middle" font-size="24.5" textLength="165" lengthAdjust="spacingAndGlyphs" transform="translate(782.5,435.0) rotate(0.00)">4” W Handles</text><text x="0" y="9.7" text-anchor="middle" font-size="27" textLength="62" lengthAdjust="spacingAndGlyphs" transform="translate(362.0,520.0) rotate(13.10)">22 in</text><text x="603.6" y="844.3" font-size="25.8" textLength="269" lengthAdjust="spacingAndGlyphs">Top grate holds 12 lbs</text><text x="603.6" y="878.7" font-size="26.2" textLength="310" lengthAdjust="spacingAndGlyphs">Bottom grate holds 20 lbs</text></g></svg></body></html>
